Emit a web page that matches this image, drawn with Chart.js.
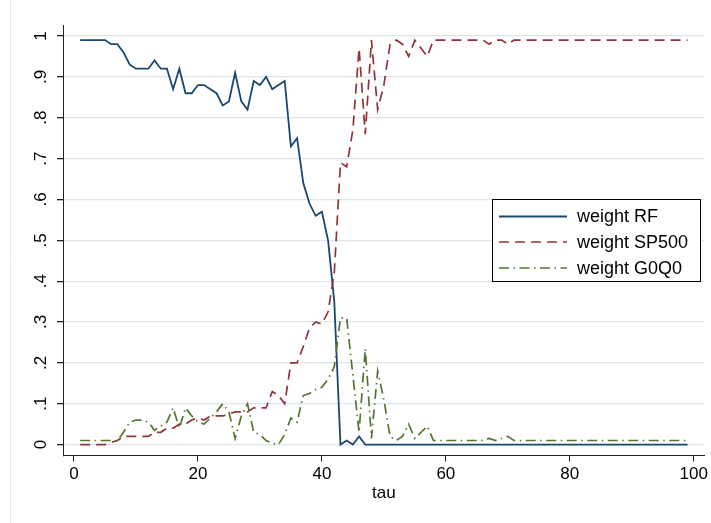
<!DOCTYPE html>
<html><head><meta charset="utf-8">
<script src="https://cdn.jsdelivr.net/npm/chart.js@4.4.1/dist/chart.umd.min.js"></script>
<style>html,body{margin:0;padding:0;background:#fff;}canvas{display:block;}</style>
</head><body>
<canvas id="c" width="711" height="523"></canvas>
<script>
const tau = [1,2,3,4,5,6,7,8,9,10,11,12,13,14,15,16,17,18,19,20,21,22,23,24,25,26,27,28,29,30,31,32,33,34,35,36,37,38,39,40,41,42,43,44,45,46,47,48,49,50,51,52,53,54,55,56,57,58,59,60,61,62,63,64,65,66,67,68,69,70,71,72,73,74,75,76,77,78,79,80,81,82,83,84,85,86,87,88,89,90,91,92,93,94,95,96,97,98,99];

const weightRF = [0.99,0.99,0.99,0.99,0.99,0.98,0.98,0.96,0.93,0.92,
  0.92,0.92,0.94,0.92,0.92,0.87,0.92,0.86,0.86,0.88,
  0.88,0.87,0.86,0.83,0.84,0.91,0.84,0.82,0.89,0.88,
  0.90,0.87,0.88,0.89,0.73,0.75,0.64,0.59,0.56,0.57,
  0.50,0.35,0,0.01,0,0.02,0,0,0,0,
  0,0,0,0,0,0,0,0,0,0,
  0,0,0,0,0,0,0,0,0,0,
  0,0,0,0,0,0,0,0,0,0,
  0,0,0,0,0,0,0,0,0,0,
  0,0,0,0,0,0,0,0,0];

const weightSP500 = [0,0,0,0,0,0.005,0.01,0.02,0.02,0.02,
  0.02,0.02,0.03,0.03,0.04,0.04,0.05,0.05,0.06,0.065,
  0.06,0.07,0.07,0.07,0.075,0.08,0.08,0.08,0.09,0.09,
  0.09,0.13,0.12,0.10,0.20,0.20,0.24,0.285,0.30,0.295,
  0.325,0.42,0.69,0.68,0.77,0.97,0.76,0.99,0.82,0.88,
  0.98,0.99,0.98,0.95,0.99,0.97,0.95,0.99,0.99,0.99,
  0.99,0.99,0.99,0.99,0.99,0.99,0.98,0.99,0.99,0.98,
  0.99,0.99,0.99,0.99,0.99,0.99,0.99,0.99,0.99,0.99,
  0.99,0.99,0.99,0.99,0.99,0.99,0.99,0.99,0.99,0.99,
  0.99,0.99,0.99,0.99,0.99,0.99,0.99,0.99,0.99];

const weightG0Q0 = [0.01,0.01,0.01,0.01,0.01,0.01,0.01,0.03,0.055,0.06,
  0.06,0.055,0.035,0.045,0.055,0.09,0.04,0.09,0.07,0.055,
  0.05,0.065,0.08,0.10,0.08,0.015,0.07,0.10,0.03,0.025,
  0.01,0.003,0,0.025,0.065,0.055,0.12,0.125,0.135,0.14,
  0.16,0.19,0.31,0.31,0.17,0.03,0.235,0.015,0.18,0.11,
  0.02,0.01,0.02,0.05,0.015,0.03,0.045,0.01,0.01,0.01,
  0.01,0.01,0.01,0.01,0.01,0.01,0.015,0.01,0.015,0.02,
  0.01,0.01,0.01,0.01,0.01,0.01,0.01,0.01,0.01,0.01,
  0.01,0.01,0.01,0.01,0.01,0.01,0.01,0.01,0.01,0.01,
  0.01,0.01,0.01,0.01,0.01,0.01,0.01,0.01,0.01];

const seriesNames = ['weight RF','weight SP500','weight G0Q0'];
const xTicks = [0,20,40,60,80,100];
const yTicks = [0,0.1,0.2,0.3,0.4,0.5,0.6,0.7,0.8,0.9,1];
const yTickLabels = ['0','.1','.2','.3','.4','.5','.6','.7','.8','.9','1'];
const xTitle = 'tau';

const FONT = '"Liberation Sans", Arial, Helvetica, sans-serif';
const colors = ['#1a476f', '#90353b', '#55752f'];
const dashes = [[], [10, 6], [10, 4.5, 1.5, 4.5]];
const widths = [1.8, 1.7, 1.7];
const seriesValues = [weightRF, weightSP500, weightG0Q0];

const datasets = seriesValues.map((vals, i) => ({
  label: seriesNames[i],
  data: tau.map((t, k) => ({x: t, y: vals[k]})),
  borderColor: colors[i],
  backgroundColor: colors[i],
  borderWidth: widths[i],
  borderDash: dashes[i],
  pointRadius: 0,
  tension: 0,
  fill: false,
  order: 3 - i
}));

const decor = {
  id: 'decor',
  beforeDraw(chart) {
    const ctx = chart.ctx;
    ctx.save();
    ctx.fillStyle = '#ffffff';
    ctx.fillRect(0, 0, chart.width, chart.height);
    ctx.strokeStyle = '#e3ecef';
    ctx.lineWidth = 1;
    ctx.beginPath();
    ctx.moveTo(10.5, 0); ctx.lineTo(10.5, chart.height);
    ctx.stroke();
    ctx.restore();
  },
  afterDraw(chart) {
    const ctx = chart.ctx;
    const ys = chart.scales.y;
    ctx.save();
    ctx.font = '17px ' + FONT;
    ctx.fillStyle = '#000';
    ctx.textAlign = 'center';
    ctx.textBaseline = 'middle';
    yTicks.forEach((v, i) => {
      const py = ys.getPixelForValue(v);
      ctx.save();
      ctx.translate(41, py);
      ctx.rotate(-Math.PI / 2);
      ctx.fillText(yTickLabels[i], 0, 0);
      ctx.restore();
    });
    // legend
    const bx = 492.5, by = 199.5, bw = 208, bh = 82;
    ctx.fillStyle = '#fff';
    ctx.fillRect(bx, by, bw, bh);
    ctx.strokeStyle = '#000';
    ctx.lineWidth = 1;
    ctx.setLineDash([]);
    ctx.strokeRect(bx, by, bw, bh);
    const rowsY = [216.5, 242, 268];
    ctx.font = '18px ' + FONT;
    ctx.textAlign = 'left';
    ctx.textBaseline = 'middle';
    seriesNames.forEach((name, i) => {
      ctx.strokeStyle = colors[i];
      ctx.lineWidth = widths[i];
      ctx.setLineDash(dashes[i]);
      ctx.beginPath();
      ctx.moveTo(499, rowsY[i]);
      ctx.lineTo(567, rowsY[i]);
      ctx.stroke();
      ctx.setLineDash([]);
      ctx.fillStyle = '#000';
      ctx.fillText(name, 577, rowsY[i] + 1);
    });
    ctx.restore();
  }
};

new Chart(document.getElementById('c'), {
  type: 'line',
  data: { datasets },
  options: {
    responsive: false,
    animation: false,
    devicePixelRatio: 1,
    layout: { padding: { left: 0, top: 25, right: 4.3, bottom: 0 } },
    plugins: { legend: { display: false }, tooltip: { enabled: false } },
    scales: {
      x: {
        type: 'linear',
        min: -1.77, max: 101.77,
        afterBuildTicks: (s) => { s.ticks = xTicks.map(v => ({value: v})); },
        afterFit: (s) => { s.height = 67.4; },
        grid: { drawOnChartArea: false, drawTicks: true, tickLength: 6, tickColor: '#222', lineWidth: 1 },
        border: { display: true, color: '#222', width: 1 },
        ticks: { font: { family: FONT, size: 17 }, color: '#000', padding: 3, maxRotation: 0, minRotation: 0, autoSkip: false },
        title: { display: true, text: xTitle, font: { family: FONT, size: 17 }, color: '#000', padding: { top: 0, bottom: 19.8 } }
      },
      y: {
        type: 'linear',
        min: -0.027, max: 1.027,
        afterBuildTicks: (s) => { s.ticks = yTicks.map(v => ({value: v})); },
        afterFit: (s) => { s.width = 63; },
        grid: { drawOnChartArea: true, color: '#dce6ea', lineWidth: 1.3, drawTicks: true, tickLength: 6, tickColor: '#222' },
        border: { display: true, color: '#222', width: 1 },
        ticks: { display: false }
      }
    }
  },
  plugins: [decor]
});
</script>
</body></html>
